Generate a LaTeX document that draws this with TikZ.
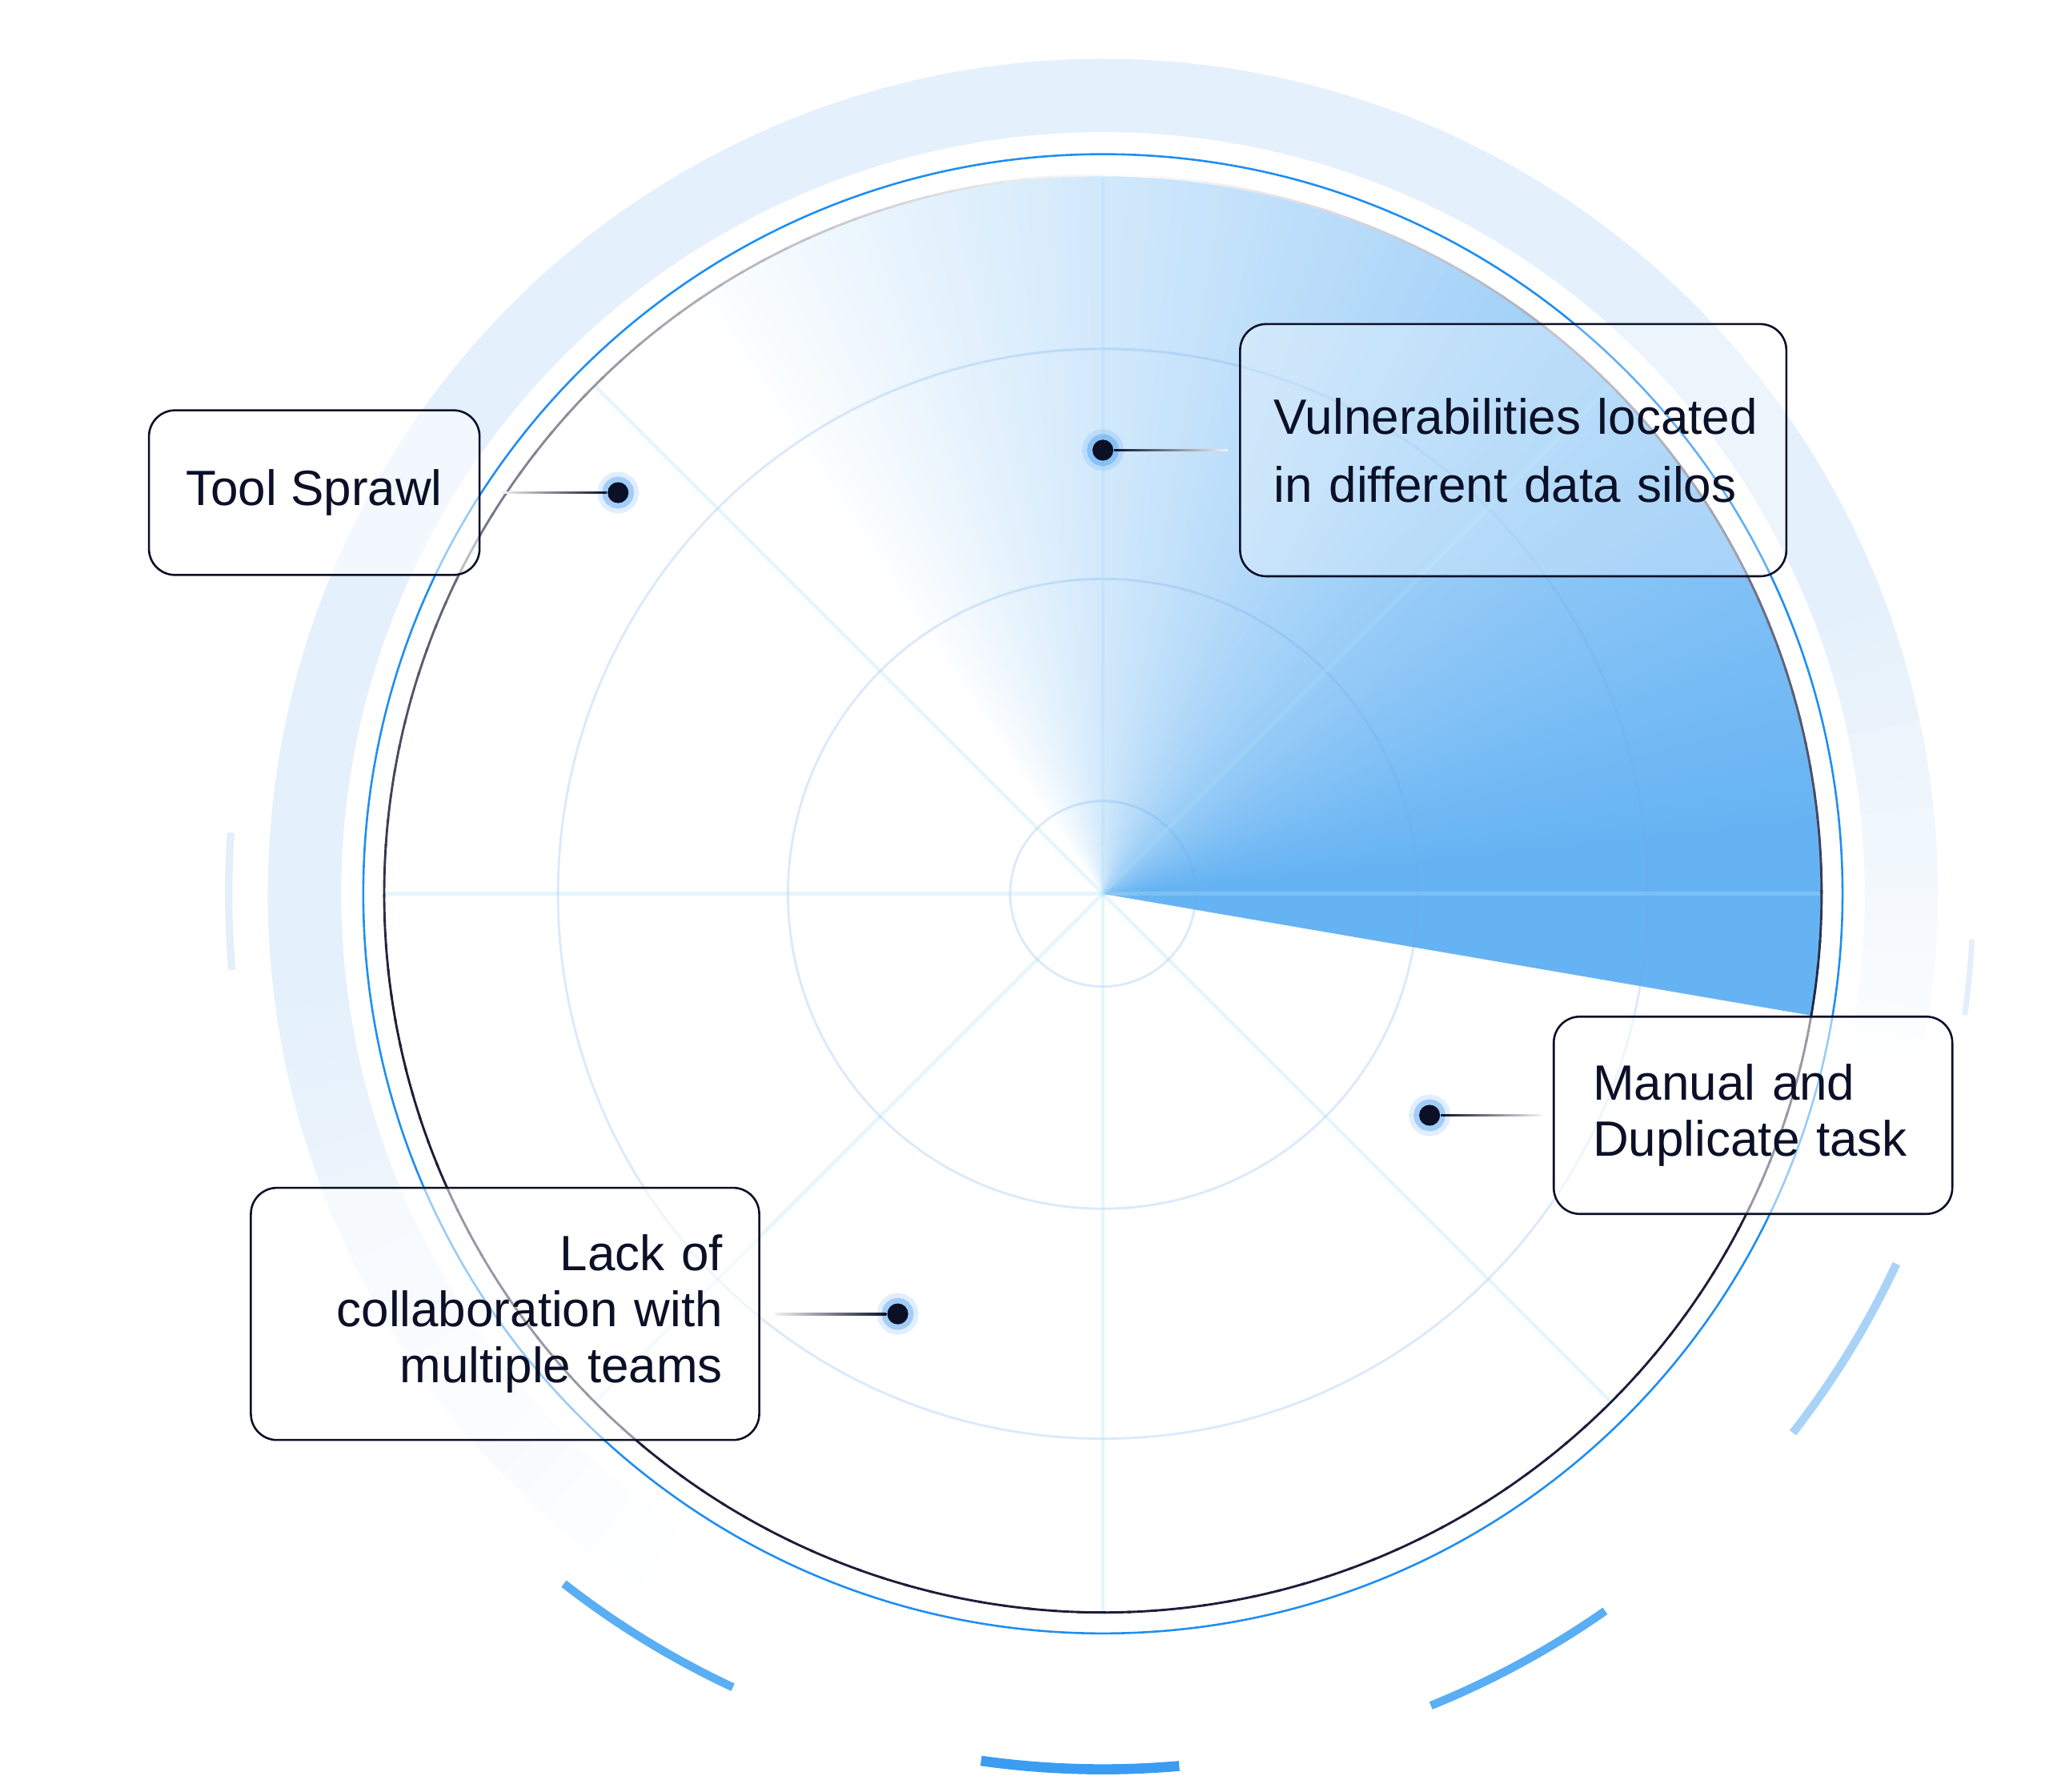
\documentclass[tikz,border=0pt]{standalone}
\usepackage{fontspec}
\setmainfont{Liberation Sans}

\definecolor{ink}{HTML}{0B1027}
\definecolor{skyblue}{HTML}{66B3F3}
\definecolor{ringblue}{HTML}{1F8EF1}
\definecolor{ringnavy}{HTML}{1C1E3A}
\definecolor{bandblue}{HTML}{E4F0FB}
\definecolor{gridtint}{HTML}{6EAAEB}
\definecolor{spoketint}{HTML}{AAE1F5}
\definecolor{arcblue}{HTML}{3B9CF1}
\definecolor{arclight}{HTML}{5AAEF3}
\definecolor{arcpale}{HTML}{A8D3F7}
\definecolor{arcfaint}{HTML}{E3EFFA}
\definecolor{glowblue}{HTML}{2F8FF0}

\begin{document}
\begin{tikzpicture}[
    callout/.style={draw=ink, line width=0.45pt, rounded corners=0.2cm, fill=white, fill opacity=0.55, text opacity=1, text=ink, font=\fontsize{10.8}{12.2}\selectfont, inner ysep=0pt},
    hub/.style={circle, fill=ink, inner sep=0pt, minimum size=0.16cm,
        preaction={draw=glowblue, draw opacity=0.15, line width=4.5pt},
        preaction={draw=glowblue, draw opacity=0.35, line width=2.4pt}},
    gridring/.style={draw=gridtint, draw opacity=0.25, line width=0.5pt},
    spoke/.style={draw=spoketint, draw opacity=0.3, line width=0.8pt}
  ]
    \useasboundingbox (-8.44,-6.87) rectangle (7.24,6.84);

    \foreach \a in {-16,-14,...,234} {
        \pgfmathsetmacro\b{\a+2.4}
        \pgfmathsetmacro\p{100*max(0,min(1,(\a+16)/36,(235-\a)/50))}
        \fill[bandblue!\p!white] (\a:6.39) arc[start angle=\a, end angle=\b, radius=6.39] -- (\b:5.83) arc[start angle=\b, end angle=\a, radius=5.83] -- cycle;
    }

    \foreach \i in {0,...,134} {
        \pgfmathsetmacro\a{-9.75+\i}
        \pgfmathsetmacro\b{\a+1.4}
        \pgfmathsetmacro\p{100*max(0,min(1,1-(\a-5)/120))}
        \fill[skyblue!\p!white] (0,0) -- (\a:5.5) arc[start angle=\a, end angle=\b, radius=5.5] -- cycle;
    }

    \foreach \r in {0.71,2.41,4.17} \draw[gridring] (0,0) circle (\r);
    \foreach \t in {0,45,...,315} \draw[spoke] (0,0) -- (\t:5.5);

    \foreach \a in {0,2,...,358} {
        \pgfmathsetmacro\b{\a+2.3}
        \pgfmathsetmacro\d{abs(mod(\a+1-88+540,360)-180)}
        \pgfmathsetmacro\p{100*min(1,\d/100)}
        \draw[ringnavy!\p!white, line width=0.5pt] (\a:5.5) arc[start angle=\a, end angle=\b, radius=5.5];
    }
    \draw[ringblue, line width=0.45pt] (0,0) circle (5.66);

    \foreach \s/\e/\c/\w in {232/245/arclight/1.8pt, 262/275/arcblue/2.2pt, 292/305/arclight/1.8pt, 322/335/arcpale/1.8pt}
        \draw[\c, line width=\w] (\s:6.7) arc[start angle=\s, end angle=\e, radius=6.7];
    \draw[arcfaint, line width=1.6pt] (176:6.69) arc[start angle=176, end angle=185, radius=6.69];
    \draw[arcfaint, line width=1.2pt] (-8:6.66) arc[start angle=-8, end angle=-3, radius=6.66];

    \node[callout, minimum width=2.53cm, minimum height=1.26cm] (tool) at (-6.035,3.07) {Tool Sprawl};
    \node[callout, fill opacity=0.3, font=\fontsize{10.8}{14.8}\selectfont, minimum height=1.93cm, inner xsep=0.26cm, text width=3.66cm, align=left] (vuln) at (3.14,3.395) {\mbox{Vulnerabilities located}\\\mbox{in different data silos}};
    \node[callout, minimum height=1.51cm, inner xsep=0.30cm, text width=2.45cm, align=left] (manual) at (4.975,-1.695) {\mbox{Manual and}\\\mbox{Duplicate task}};
    \node[callout, minimum height=1.93cm, inner xsep=0.28cm, text width=3.33cm, align=right] (lack) at (-4.575,-3.215) {\mbox{Lack of}\\\mbox{collaboration with}\\\mbox{multiple teams}};

    \node[hub] (tooldot) at (-3.71,3.07) {};
    \node[hub] (vulndot) at (0,3.395) {};
    \node[hub] (manualdot) at (2.50,-1.695) {};
    \node[hub] (lackdot) at (-1.57,-3.215) {};

    \shade[left color=ink!5, right color=ink] ([xshift=0.16cm,yshift=-0.25pt]tool.east) rectangle ([yshift=0.25pt]tooldot.west);
    \shade[left color=ink, right color=ink!5] ([yshift=-0.25pt]vulndot.east) rectangle ([xshift=-0.09cm,yshift=0.25pt]vuln.west);
    \shade[left color=ink, right color=ink!5] ([yshift=-0.25pt]manualdot.east) rectangle ([xshift=-0.09cm,yshift=0.25pt]manual.west);
    \shade[left color=ink!5, right color=ink] ([xshift=0.11cm,yshift=-0.25pt]lack.east) rectangle ([yshift=0.25pt]lackdot.west);
\end{tikzpicture}
\end{document}
